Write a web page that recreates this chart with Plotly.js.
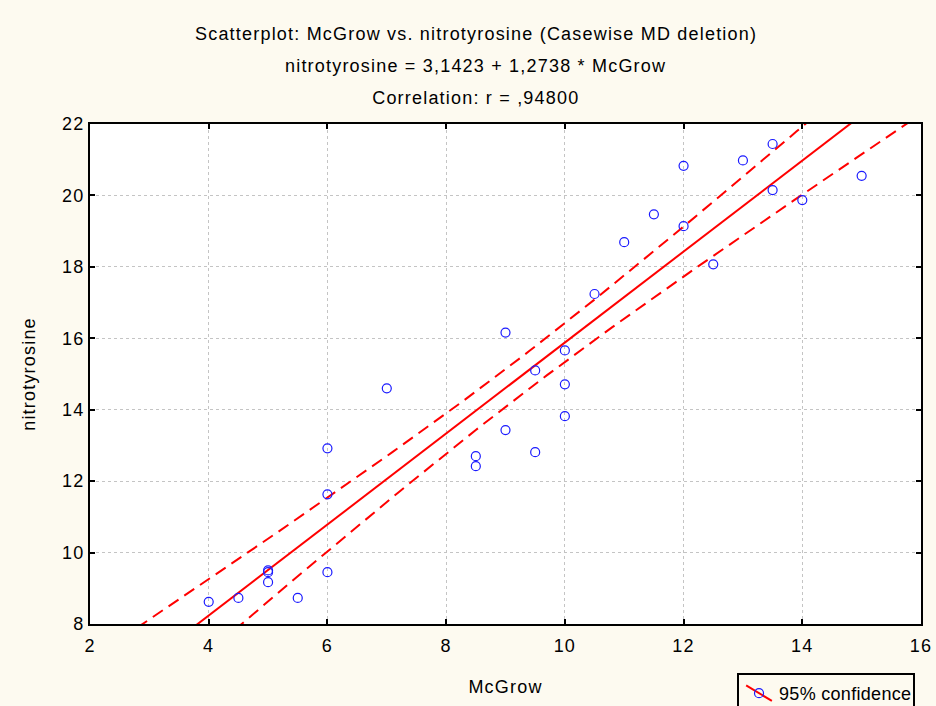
<!DOCTYPE html>
<html>
<head>
<meta charset="utf-8">
<script src="https://cdn.plot.ly/plotly-3.0.1.min.js"></script>
<style>
html,body{margin:0;padding:0;background:#fdfaf0;}
#chart{width:936px;height:706px;}
#chart text{letter-spacing:1.2px;}
#chart .legendtext{letter-spacing:0.3px;}
#chart .legendlines path{transform-box:fill-box;transform-origin:center;transform:rotate(31deg);}
</style>
</head>
<body>
<div id="chart"></div>
<script>
// McGrow values (x) and nitrotyrosine values (y)
var mcgrow = [4, 4.5, 5, 5, 5, 5.5, 6, 6, 6, 7, 8.5, 8.5, 9, 9, 9.5, 9.5, 10, 10, 10, 10.5, 11, 11.5, 12, 12, 12.5, 13, 13.5, 13.5, 14, 15];
var nitro  = [8.62, 8.73, 9.50, 9.45, 9.17, 8.73, 12.92, 11.63, 9.45, 14.60, 12.70, 12.42, 16.16, 13.43, 15.10, 12.81, 15.66, 14.71, 13.82, 17.24, 18.69, 19.47, 20.83, 19.14, 18.07, 20.98, 21.44, 20.15, 19.87, 20.55];
// regression coefficients from the chart title
var intercept = 3.1423;
var slope = 1.2738;
var tCrit = 2.048; // t(0.975, n-2 = 28)

var titleLines = [
  "Scatterplot: McGrow vs. nitrotyrosine (Casewise MD deletion)",
  "nitrotyrosine = 3,1423 + 1,2738 * McGrow",
  "Correlation: r = ,94800"
];
var xTickVals = [2, 4, 6, 8, 10, 12, 14, 16];
var yTickVals = [8, 10, 12, 14, 16, 18, 20, 22];

// fitted line and 95% confidence band computed from the data
var n = mcgrow.length;
var mx = mcgrow.reduce(function(a,b){return a+b;},0)/n;
var sxx = 0, sse = 0;
for (var i=0;i<n;i++){
  sxx += (mcgrow[i]-mx)*(mcgrow[i]-mx);
  var r = nitro[i]-(intercept+slope*mcgrow[i]);
  sse += r*r;
}
var s = Math.sqrt(sse/(n-2));
var gx=[], fit=[], upper=[], lower=[];
for (var k=0;k<=140;k++){
  var xv = 2 + k*0.1;
  var yv = intercept + slope*xv;
  var hw = tCrit*s*Math.sqrt(1/n + (xv-mx)*(xv-mx)/sxx);
  gx.push(xv); fit.push(yv); upper.push(yv+hw); lower.push(yv-hw);
}

var red = '#ff0000', blue = '#1a1aff';
var traces = [
  {x:gx, y:upper, mode:'lines', line:{color:red, width:2, dash:'12px,7px'}, showlegend:false, hoverinfo:'skip'},
  {x:gx, y:lower, mode:'lines', line:{color:red, width:2, dash:'12px,7px'}, showlegend:false, hoverinfo:'skip'},
  {x:gx, y:fit, mode:'lines', line:{color:red, width:2}, showlegend:false, hoverinfo:'skip'},
  {x:mcgrow, y:nitro, mode:'markers', name:'95% confidence', showlegend:false,
   marker:{symbol:'circle-open', size:9, color:blue, line:{width:1.2, color:blue}}},
  {x:[null], y:[null], mode:'lines+markers', name:'95% confidence', showlegend:true,
   line:{color:red, width:2}, marker:{symbol:'circle-open', size:9, color:blue, line:{width:1.2,color:blue}}}
];

var fontFam = '"Liberation Sans", Arial, sans-serif';
var annotations = titleLines.map(function(t, j){
  return {text:t, xref:'paper', yref:'paper', x:0.4645, y:[1.18,1.116,1.052][j],
          xanchor:'center', yanchor:'middle', showarrow:false,
          font:{family:fontFam, size:18, color:'#000'}};
});

var axisCommon = {
  showline:true, linecolor:'#000', linewidth:2, mirror:'ticks',
  ticks:'inside', ticklen:5, tickwidth:2, tickcolor:'#000',
  showgrid:true, gridcolor:'#c4c4c4', griddash:'dot', gridwidth:1,
  zeroline:false, tickfont:{family:fontFam, size:18, color:'#000'}
};

var layout = {
  width:936, height:706,
  paper_bgcolor:'#fdfaf0', plot_bgcolor:'#ffffff',
  margin:{l:90, r:15, t:124, b:82, autoexpand:false},
  font:{family:fontFam, size:18, color:'#000'},
  xaxis:Object.assign({}, axisCommon, {range:[2,16], tickvals:xTickVals, automargin:false,
     ticklabelstandoff:4,
     title:{text:'McGrow', font:{family:fontFam,size:18}, standoff:26}}),
  yaxis:Object.assign({}, axisCommon, {range:[8,22], tickvals:yTickVals, automargin:false,
     title:{text:'nitrotyrosine', font:{family:fontFam,size:18}, standoff:24}}),
  annotations:annotations,
  showlegend:true,
  legend:{x:0.7786, y:-0.098, xanchor:'left', yanchor:'top', bgcolor:'#fdfaf0',
          bordercolor:'#000', borderwidth:2, font:{family:fontFam,size:18,color:'#000'}}
};

Plotly.newPlot('chart', traces, layout, {displayModeBar:false, staticPlot:true});
</script>
</body>
</html>
